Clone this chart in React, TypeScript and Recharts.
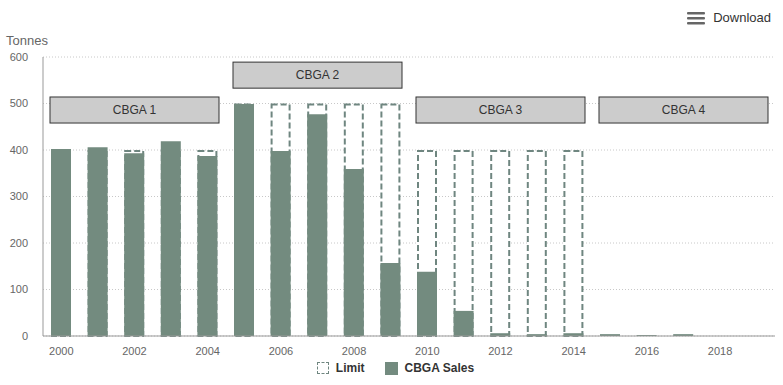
import {
  BarChart,
  Bar,
  XAxis,
  YAxis,
  CartesianGrid,
  ReferenceArea,
} from "recharts";

const years = [
  "2000", "2001", "2002", "2003", "2004", "2005", "2006", "2007", "2008", "2009",
  "2010", "2011", "2012", "2013", "2014", "2015", "2016", "2017", "2018", "2019",
];
const limits = [
  400, 400, 400, 400, 400, 500, 500, 500, 500, 500,
  400, 400, 400, 400, 400, null, null, null, null, null,
];
const sales = [
  402, 406, 393, 419, 387, 499, 398, 477, 359, 157,
  138, 54, 6, 4, 6, 4, 2, 4, 0, 0,
];
const yTicks = [0, 100, 200, 300, 400, 500, 600];

const periodNames = ["CBGA 1", "CBGA 2", "CBGA 3", "CBGA 4"];
const periodStart = ["2000", "2005", "2010", "2015"];
const periodEnd = ["2004", "2009", "2014", "2019"];
const periodLow = [458, 533, 458, 458];
const periodHigh = [514, 589, 514, 514];

const FONT = "'Liberation Sans', Arial, sans-serif";
const BAR = "#738b7f";
const DASH = "#6f8680";

const data = years.map((year, i) => ({
  year,
  limit: limits[i],
  sales: sales[i],
}));

const PeriodBox = (props: any) => {
  const { x, y, width, height, name } = props;
  const inset = 7;
  return (
    <g>
      <rect
        x={x + inset}
        y={y}
        width={width - inset * 2}
        height={height}
        fill="#cccccc"
        stroke="#333333"
        strokeWidth={1}
      />
      <text
        x={x + width / 2}
        y={y + height / 2}
        textAnchor="middle"
        dominantBaseline="central"
        fontSize={12}
        fill="#333333"
        fontFamily={FONT}
      >
        {name}
      </text>
    </g>
  );
};

// dashed outline kept inside the bar's own box so the sales bar covers it
const LimitShape = (props: any) => {
  const { x, y, width, height } = props;
  if (!height || height <= 0) return null;
  return (
    <rect
      x={x + 1}
      y={y + 1}
      width={width - 2}
      height={height - 1}
      fill="#ffffff"
      stroke={DASH}
      strokeWidth={2}
      strokeDasharray="6 3"
    />
  );
};

export default function App() {
  return (
    <div
      style={{
        position: "absolute",
        left: 0,
        top: 0,
        width: 783,
        height: 385,
        background: "#fff",
        fontFamily: FONT,
      }}
    >
      <div style={{ position: "absolute", left: 6, top: 33, fontSize: 13, color: "#666" }}>
        Tonnes
      </div>
      <div
        style={{
          position: "absolute",
          right: 12,
          top: 10,
          display: "flex",
          alignItems: "center",
          gap: 8,
          fontSize: 13,
          color: "#333",
        }}
      >
        <svg width={18} height={14}>
          <rect x={0} y={1} width={18} height={2.5} rx={1} fill="#666" />
          <rect x={0} y={6} width={18} height={2.5} rx={1} fill="#666" />
          <rect x={0} y={11} width={18} height={2.5} rx={1} fill="#666" />
        </svg>
        <span>Download</span>
      </div>

      <BarChart
        width={783}
        height={385}
        data={data}
        margin={{ top: 57, right: 8, bottom: 19, left: 0 }}
        barSize={20}
        barGap={-20}
        style={{ fontFamily: FONT }}
      >
        <CartesianGrid
          vertical={false}
          stroke="#c8c8c8"
          strokeDasharray="1 2"
        />
        <XAxis
          dataKey="year"
          interval={1}
          tickLine={false}
          axisLine={{ stroke: "#999" }}
          tickMargin={5}
          tick={{ fontSize: 11, fill: "#666" }}
        />
        <YAxis
          width={43}
          domain={[0, 600]}
          ticks={yTicks}
          tickLine={false}
          axisLine={{ stroke: "#999" }}
          tickMargin={9}
          tick={{ fontSize: 11, fill: "#666" }}
        />
        <Bar
          dataKey="limit"
          name="Limit"
          shape={LimitShape}
          isAnimationActive={false}
        />
        <Bar dataKey="sales" name="CBGA Sales" fill={BAR} isAnimationActive={false} />
        {periodNames.map((name, i) => (
          <ReferenceArea
            key={name}
            x1={periodStart[i]}
            x2={periodEnd[i]}
            y1={periodLow[i]}
            y2={periodHigh[i]}
            shape={(p: any) => <PeriodBox {...p} name={name} />}
          />
        ))}
      </BarChart>

      <div
        style={{
          position: "absolute",
          left: 0,
          top: 361,
          width: 783,
          display: "flex",
          justifyContent: "center",
          alignItems: "center",
          gap: 20,
          fontSize: 12,
          fontWeight: "bold",
          color: "#333",
        }}
      >
        <div style={{ display: "flex", alignItems: "center", gap: 7, marginLeft: 8 }}>
          <span
            style={{
              width: 10,
              height: 10,
              border: `1.5px dashed ${DASH}`,
              display: "inline-block",
            }}
          />
          <span>Limit</span>
        </div>
        <div style={{ display: "flex", alignItems: "center", gap: 7 }}>
          <span style={{ width: 13, height: 13, background: BAR, display: "inline-block" }} />
          <span>CBGA Sales</span>
        </div>
      </div>
    </div>
  );
}
